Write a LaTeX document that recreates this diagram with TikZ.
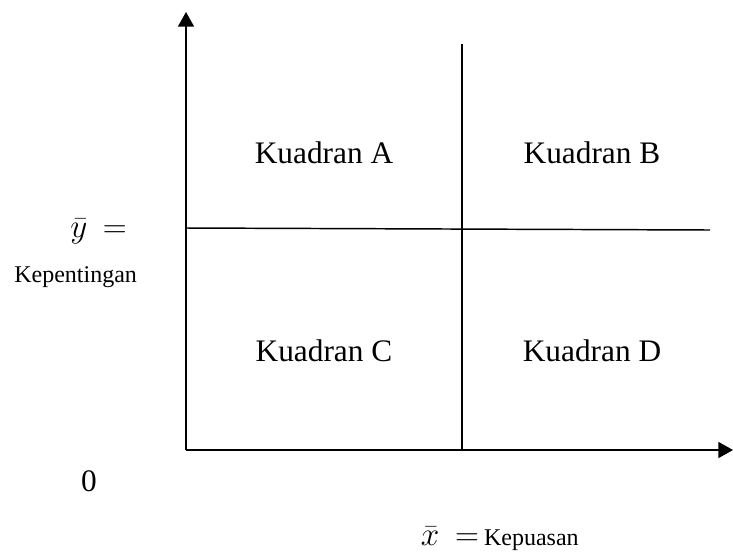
\documentclass[tikz,border=0pt]{standalone}
\usepackage{fontspec}
\setmainfont{Liberation Serif}
\usetikzlibrary{arrows.meta}

\tikzset{
  axisline/.style={line width=1.3pt,-{Triangle[width=12pt,length=11pt]}},
  divline/.style={line width=1.1pt},
  quadlabel/.style={anchor=base,inner sep=0pt,font=\fontsize{23.5}{28}\selectfont},
  smalllabel/.style={inner sep=0pt,font=\fontsize{18}{22}\selectfont}
}

\begin{document}
\begin{tikzpicture}[x=0.75pt,y=-0.75pt]
  \useasboundingbox (0,0) rectangle (733,551);
  % axes
  \coordinate (origin) at (186,450);
  \coordinate (ytip) at (186,12);
  \coordinate (xtip) at (733,450);
  \draw[axisline] (origin) -- (ytip);
  \draw[axisline] (origin) -- (xtip);
  % quadrant dividers
  \coordinate (vtop) at (462,44);
  \coordinate (vbot) at (462,450);
  \coordinate (hleft) at (186,228);
  \coordinate (hright) at (710,230);
  \draw[divline] (vtop) -- (vbot);
  \draw[divline] (hleft) -- (hright);
  % quadrant labels
  \node[quadlabel] (qa) at (324,163) {Kuadran A};
  \node[quadlabel] (qb) at (592,163) {Kuadran B};
  \node[quadlabel] (qc) at (324,361) {Kuadran C};
  \node[quadlabel] (qd) at (592,361) {Kuadran D};
  % axis labels
  \node[quadlabel,anchor=base west] (ybar) at (70,237) {$\bar{y}$\ \ $=$};
  \node[smalllabel,anchor=base west] (ylab) at (14,282) {Kepentingan};
  \node[quadlabel] (zero) at (89,491) {0};
  \node[quadlabel,anchor=base east] (xlab) at (579,545)
    {$\bar{x}$\ \ $=$\,{\fontsize{18}{22}\selectfont Kepuasan}};
\end{tikzpicture}
\end{document}
